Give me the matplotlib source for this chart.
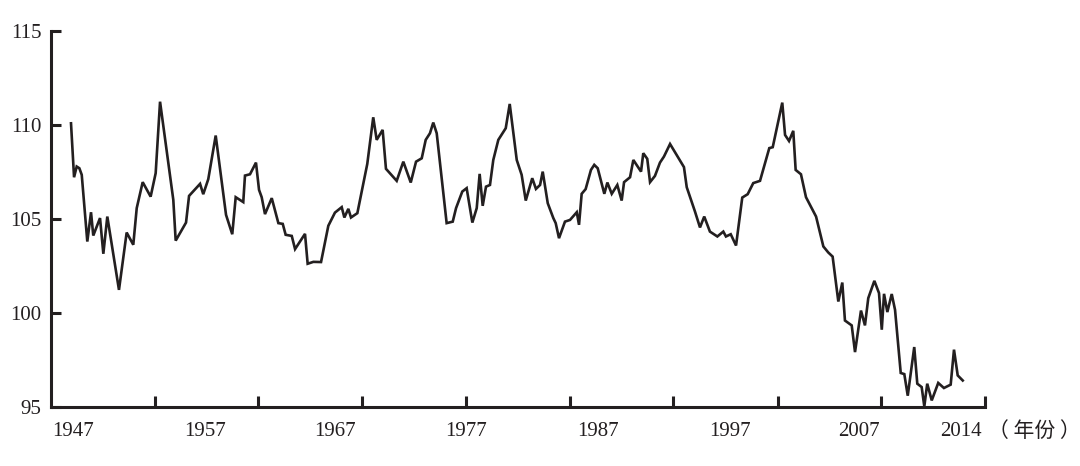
import matplotlib.pyplot as plt

# 读图得到的数据（年份, 指数）
years = [1947.00, 1947.23, 1947.43, 1947.63, 1947.81, 1948.23, 1948.51, 1948.68, 1948.94, 1949.19,
         1949.44, 1949.74, 1950.62, 1951.20, 1951.70, 1951.96, 1952.41, 1953.01, 1953.39, 1953.72,
         1954.72, 1954.90, 1955.68, 1955.91, 1956.74, 1956.98, 1957.36, 1957.92, 1958.70, 1959.17,
         1959.43, 1960.00, 1960.13, 1960.51, 1960.96, 1961.19, 1961.39, 1961.64, 1962.15, 1962.65,
         1962.98, 1963.20, 1963.66, 1963.91, 1964.66, 1964.86, 1965.29, 1965.87, 1966.42, 1966.92,
         1967.43, 1967.63, 1967.93, 1968.13, 1968.61, 1969.36, 1969.81, 1970.07, 1970.52, 1970.77,
         1971.58, 1972.08, 1972.64, 1973.04, 1973.47, 1973.77, 1974.09, 1974.34, 1974.60, 1975.35,
         1975.81, 1976.06, 1976.53, 1976.86, 1977.29, 1977.62, 1977.84, 1978.07, 1978.32, 1978.62,
         1978.87, 1979.25, 1979.81, 1980.11, 1980.64, 1981.01, 1981.32, 1981.81, 1982.09, 1982.40,
         1982.60, 1982.98, 1983.40, 1983.58, 1983.83, 1984.28, 1984.66, 1985.17, 1985.34, 1985.54,
         1985.84, 1986.24, 1986.49, 1986.75, 1987.25, 1987.48, 1987.81, 1988.23, 1988.56, 1988.74,
         1989.19, 1989.44, 1990.02, 1990.19, 1990.49, 1990.70, 1991.07, 1991.45, 1991.75, 1992.21,
         1993.26, 1993.47, 1994.09, 1994.47, 1994.79, 1995.22, 1995.78, 1996.23, 1996.43, 1996.79,
         1997.19, 1997.66, 1998.07, 1998.49, 1999.00, 1999.70, 1999.96, 2000.68, 2000.89, 2001.19,
         2001.51, 2001.69, 2002.09, 2002.47, 2003.23, 2003.78, 2004.15, 2004.48, 2004.91, 2005.21,
         2005.41, 2005.92, 2006.17, 2006.62, 2006.92, 2007.17, 2007.63, 2007.98, 2008.19, 2008.36,
         2008.61, 2008.94, 2009.19, 2009.62, 2009.89, 2010.15, 2010.64, 2010.87, 2011.20, 2011.40,
         2011.62, 2011.96, 2012.45, 2012.88, 2013.39, 2013.64, 2013.92, 2014.30]
values = [110.09, 107.22, 107.79, 107.70, 107.35, 103.80, 105.36, 104.12, 104.60, 105.05,
          103.15, 105.13, 101.23, 104.28, 103.63, 105.58, 106.96, 106.19, 107.44, 111.24,
          106.02, 103.85, 104.81, 106.23, 106.87, 106.32, 107.12, 109.44, 105.22, 104.19,
          106.16, 105.90, 107.31, 107.38, 108.00, 106.55, 106.16, 105.26, 106.11, 104.78,
          104.74, 104.16, 104.10, 103.40, 104.21, 102.62, 102.72, 102.71, 104.64, 105.34,
          105.63, 105.08, 105.54, 105.08, 105.31, 107.93, 110.41, 109.21, 109.74, 107.67,
          107.03, 108.05, 106.94, 108.05, 108.23, 109.21, 109.56, 110.13, 109.56, 104.78,
          104.86, 105.58, 106.46, 106.64, 104.81, 105.58, 107.40, 105.70, 106.72, 106.81,
          108.14, 109.21, 109.83, 111.12, 108.14, 107.35, 105.98, 107.17, 106.60, 106.81,
          107.52, 105.84, 105.05, 104.78, 103.98, 104.86, 104.95, 105.36, 104.69, 106.34,
          106.59, 107.61, 107.88, 107.70, 106.34, 106.94, 106.34, 106.81, 105.98, 106.96,
          107.22, 108.14, 107.52, 108.50, 108.20, 106.96, 107.29, 108.00, 108.32, 108.99,
          107.76, 106.69, 105.40, 104.55, 105.13, 104.33, 104.07, 104.33, 104.07, 104.19,
          103.59, 106.14, 106.32, 106.91, 107.03, 108.77, 108.82, 111.19, 109.47, 109.15,
          109.69, 107.61, 107.38, 106.16, 105.13, 103.54, 103.22, 103.00, 100.61, 101.62,
          99.60, 99.34, 97.92, 100.13, 99.34, 100.79, 101.71, 101.06, 99.11, 101.02,
          100.05, 101.01, 100.17, 96.81, 96.75, 95.60, 98.19, 96.24, 96.06, 95.03,
          96.24, 95.35, 96.28, 96.01, 96.19, 98.05, 96.68, 96.41]

x_labels = ['1947', '1957', '1967', '1977', '1987', '1997', '2007', '2014']
x_label_pos = [1947.15, 1957.1, 1966.9, 1976.8, 1986.8, 1996.7, 2006.5, 2014.2]
x_tick_pos = [1953.34, 1961.11, 1968.96, 1976.81, 1984.66, 1992.43, 2000.36, 2008.13, 2015.98]
y_ticks = [95, 100, 105, 110, 115]

plt.rcParams['font.family'] = ['Liberation Serif', 'DejaVu Serif']
ink = '#231f20'

fig = plt.figure(figsize=(10.8, 4.66), dpi=100)
ax = fig.add_axes([51 / 1080, 59 / 466, 934 / 1080, 376 / 466])

ax.plot(years, values, color=ink, lw=1.9, solid_joinstyle='miter', clip_on=False)

ax.set_xlim(1945.49, 2015.98)
ax.set_ylim(95, 115)

ax.spines['top'].set_visible(False)
ax.spines['right'].set_visible(False)
for s in ['left', 'bottom']:
    ax.spines[s].set_linewidth(2.2)
    ax.spines[s].set_color(ink)

ax.set_yticks(y_ticks)
ax.tick_params(axis='y', direction='in', length=7, width=2.2, color=ink,
               labelsize=15, labelcolor=ink, pad=7)

# 刻度线与年份标签分开放
ax.set_xticks(x_label_pos)
ax.set_xticklabels(x_labels)
ax.tick_params(axis='x', which='major', length=0, labelsize=15, labelcolor=ink, pad=10.5)
ax.set_xticks(x_tick_pos, minor=True)
ax.tick_params(axis='x', which='minor', direction='in', length=8, width=2.2, color=ink)

fig.text(988 / 1080, 1 - 431 / 466, '（ 年份 ）', family=['Noto Sans CJK SC', 'DejaVu Sans'],
         fontsize=15, color=ink, ha='left', va='center')

fig.savefig('out.png', dpi=100)
